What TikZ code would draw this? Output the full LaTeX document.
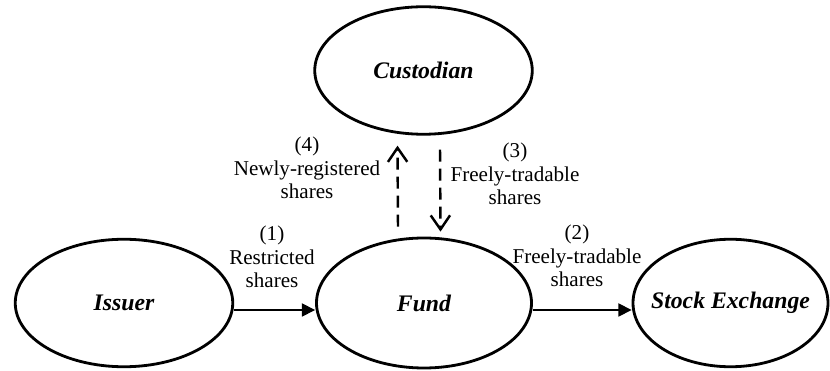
\documentclass[tikz,border=0pt]{standalone}
\usepackage{fontspec}
\setmainfont{Liberation Serif}
\usetikzlibrary{shapes.geometric,arrows.meta}

\begin{document}
\begin{tikzpicture}
    \tikzset{
      party/.style={ellipse, draw=black, line width=1.6pt, minimum width=4.35cm, minimum height=2.55cm, inner sep=0pt, font=\fontsize{13.5}{16}\selectfont\bfseries\itshape},
      lbl/.style={align=center, font=\fontsize{12}{13.4}\selectfont},
      flow/.style={line width=0.7pt, -{Triangle[length=7.5pt,width=7.5pt]}},
      dflow/.style={line width=1.4pt, dash pattern=on 6.8pt off 4pt, -{Straight Barb[length=8pt,width=11pt,line width=1.4pt]}}
    }
    \useasboundingbox (0,0) rectangle (16.6,7.42);

    % Parteien
    \node[party] (custodian) at (8.47,6.01) {Custodian};
    \node[party] (issuer) at (2.48,1.36) {Issuer};
    \node[party, minimum width=4.3cm, minimum height=2.6cm] (fund) at (8.48,1.36) {Fund};
    \node[party, minimum width=3.9cm] (exchange) at (14.61,1.36) {\makebox[0pt]{Stock Exchange}};

    % Aktienfluss
    \draw[flow] ([yshift=-0.14cm]issuer.east) -- ([yshift=-0.14cm]fund.west);
    \draw[flow] ([yshift=-0.14cm]fund.east) -- ([yshift=-0.14cm]exchange.west);
    \draw[dflow] ([xshift=-0.52cm, yshift=0.2cm]fund.north) -- ([xshift=-0.52cm, yshift=-0.2cm]custodian.south);
    \draw[dflow] ([xshift=0.33cm, yshift=-0.28cm]custodian.south) -- ([xshift=0.33cm, yshift=0.1cm]fund.north);

    % Beschriftungen
    \node[lbl] (lab1) at (5.44,2.28) {(1)\\Restricted\\shares};
    \node[lbl] (lab2) at (11.54,2.30) {(2)\\Freely-tradable\\shares};
    \node[lbl] (lab3) at (10.30,3.94) {(3)\\Freely-tradable\\shares};
    \node[lbl] (lab4) at (6.14,4.06) {(4)\\Newly-registered\\shares};
\end{tikzpicture}
\end{document}
